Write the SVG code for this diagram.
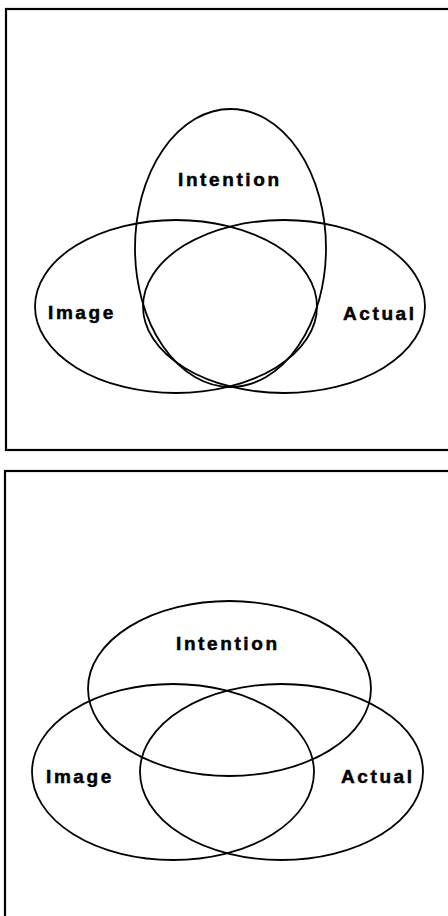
<svg xmlns="http://www.w3.org/2000/svg" width="448" height="916" viewBox="0 0 448 916">
<style>
.frame{fill:none;stroke:#000;stroke-width:2.2}
.set{fill:none;stroke:#000;stroke-width:1.8}
.lbl{font-family:"Liberation Sans",Arial,sans-serif;font-weight:bold;font-size:19px;letter-spacing:2.6px;fill:#000;stroke:#000;stroke-width:0.5}
</style>
<rect width="448" height="916" fill="#fff"/>
<g id="panel1">
<rect class="frame" x="6" y="9" width="470" height="441"/>
<g id="p1-intention"><ellipse class="set" cx="230.5" cy="248" rx="95.5" ry="139"/><text class="lbl" x="178" y="186">Intention</text></g>
<g id="p1-image"><ellipse class="set" cx="176" cy="306.5" rx="141" ry="86.5"/><text class="lbl" x="48" y="319">Image</text></g>
<g id="p1-actual"><ellipse class="set" cx="284" cy="306.5" rx="141" ry="86.5"/><text class="lbl" x="343" y="320">Actual</text></g>
</g>
<g id="panel2">
<rect class="frame" x="5" y="471" width="470" height="460"/>
<g id="p2-intention"><ellipse class="set" cx="229.5" cy="688.5" rx="141.5" ry="87.5"/><text class="lbl" x="176" y="650">Intention</text></g>
<g id="p2-image"><ellipse class="set" cx="173" cy="772" rx="141" ry="88"/><text class="lbl" x="46" y="783">Image</text></g>
<g id="p2-actual"><ellipse class="set" cx="281.5" cy="772" rx="141.5" ry="88"/><text class="lbl" x="341" y="783">Actual</text></g>
</g>
<g id="connectors"></g>
</svg>
